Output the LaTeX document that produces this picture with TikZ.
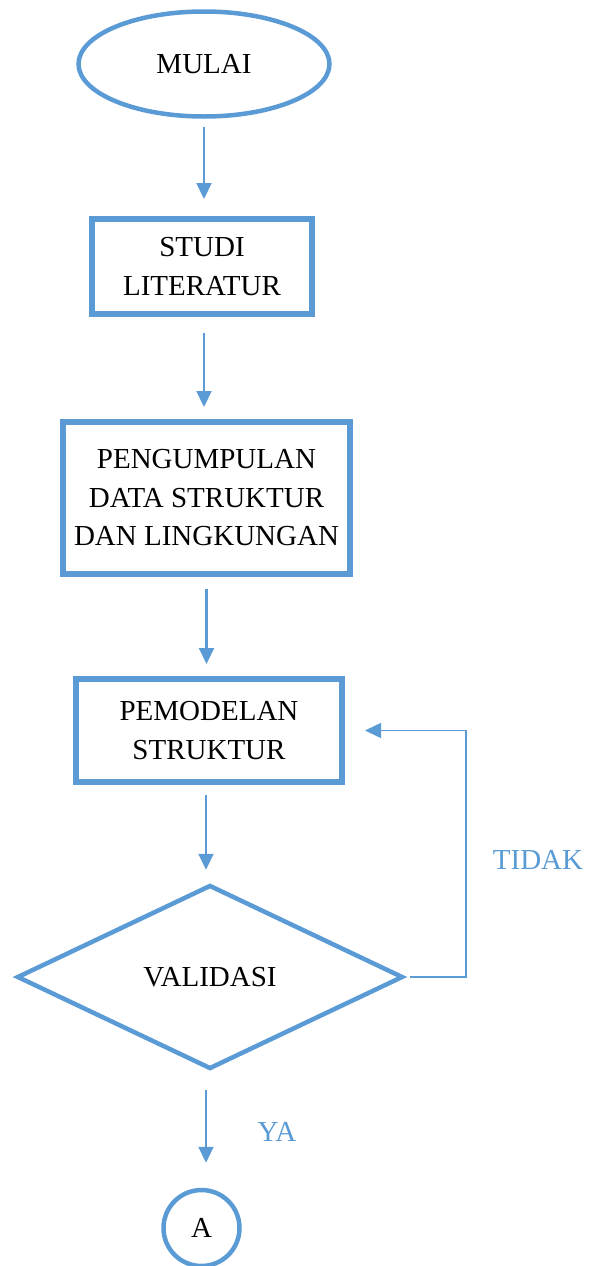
\documentclass[tikz,border=0pt]{standalone}
\usepackage{fontspec}
\setmainfont{Liberation Serif}
\usetikzlibrary{shapes.geometric,arrows.meta}
\definecolor{flowblue}{HTML}{5B9BD5}
\begin{document}
\begin{tikzpicture}[x=1pt,y=-1pt,>={Triangle[length=16pt,width=15pt]},line join=miter,
	font=\fontsize{29}{38.5}\selectfont,
	box/.style={draw=flowblue,line width=6pt,inner sep=0pt,align=center},
	flow/.style={->,draw=flowblue,fill=flowblue,line width=2.2pt,shorten <=8pt},
	back/.style={->,draw=flowblue,line width=1.6pt},
	lbl/.style={text=flowblue}]
		\useasboundingbox (0,0) rectangle (590,1266);
		\node[box,ellipse,line width=4.5pt,minimum width=251pt,minimum height=105pt] (mulai) at (204,64) {MULAI};
		\node[box,minimum width=220pt,minimum height=95pt] (studi) at (202,266.5) {STUDI\\LITERATUR};
		\node[box,minimum width=287pt,minimum height=152pt] (data) at (206.5,498) {PENGUMPULAN\\DATA STRUKTUR\\DAN LINGKUNGAN};
		\node[box,minimum width=266pt,minimum height=103pt] (model) at (209,730.5) {PEMODELAN\\STRUKTUR};
		\node[box,diamond,line width=4.5pt,minimum width=386pt,minimum height=184pt] (valid) at (210,977) {VALIDASI};
		\node[box,circle,line width=4.5pt,minimum size=76pt] (a) at (201.5,1228) {A};
		\coordinate (turn) at (466,977);
		\draw[flow,shorten >=17pt] (mulai.south) -- (mulai.south |- studi.north);
		\draw[flow,shorten >=12pt,shorten <=16pt] ([xshift=2pt]studi.south) -- ([xshift=2pt]studi.south |- data.north);
		\draw[flow,shorten >=12pt,shorten <=12pt] (data.south) -- (data.south |- model.north);
		\draw[flow,shorten >=13pt,shorten <=10pt] ([xshift=-3pt]model.south) -- ([xshift=-3pt]model.south |- valid.north);
		\draw[flow,shorten >=25pt,shorten <=19pt] ([xshift=-4pt]valid.south) -- ([xshift=-4pt]valid.south |- a.north);
		\draw[back,shorten <=5pt,shorten >=20pt] (valid.east) -- (turn) |- (model.east);
		\node[lbl] (tidak) at (538,860) {TIDAK};
		\node[lbl] (ya) at (277,1132) {YA};
\end{tikzpicture}
\end{document}
